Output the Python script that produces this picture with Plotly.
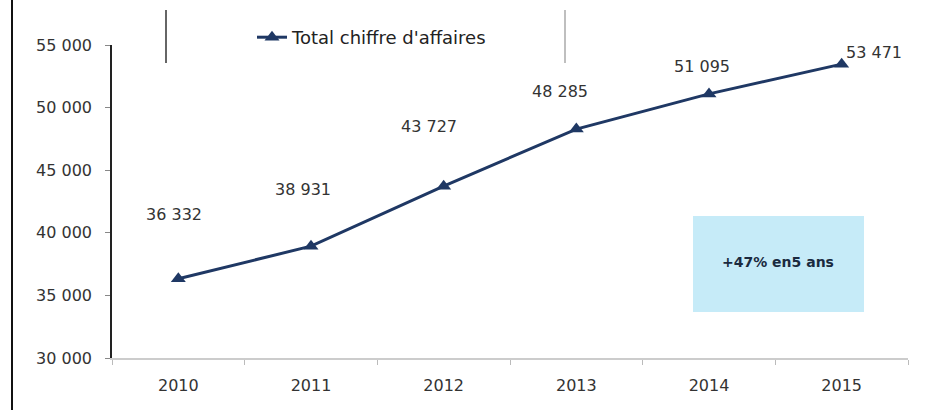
import plotly.graph_objects as go

years = ["2010", "2011", "2012", "2013", "2014", "2015"]
ca_total = [36332, 38931, 43727, 48285, 51095, 53471]
label_texts = ["36 332", "38 931", "43 727", "48 285", "51 095", "53 471"]
y_tickvals = [30000, 35000, 40000, 45000, 50000, 55000]
y_ticktext = ["30 000", "35 000", "40 000", "45 000", "50 000", "55 000"]
series_name = "Total chiffre d'affaires"
box_text = "<b>+47% en5 ans</b>"

# label offsets (pixels) relative to each point - styling only
label_dx = [-4, -8, -15, -16, -7, 32]
label_dy = [64, 57, 60, 38, 27, 12]

W, H = 928, 410
ML, MR, MT, MB = 112, 20, 45, 52
PW, PH = W - ML - MR, H - MT - MB

def px(x):
    return (x - ML) / PW

def py(y):
    return (H - MB - y) / PH

navy = "#1f3864"
font = "DejaVu Sans"

fig = go.Figure()
fig.add_trace(go.Scatter(
    x=years, y=ca_total, mode="lines+markers", name=series_name,
    line=dict(color=navy, width=3),
    marker=dict(symbol="triangle-up", size=13, color=navy),
    cliponaxis=False,
))

for i, (v, t, dx, dy) in enumerate(zip(ca_total, label_texts, label_dx, label_dy)):
    fig.add_annotation(x=i, y=v, text=t, showarrow=False, xshift=dx, yshift=dy,
                       xanchor="center", yanchor="middle",
                       font=dict(family=font, size=16, color="#333333"))

# info box
fig.add_shape(type="rect", xref="paper", yref="paper",
              x0=px(693), x1=px(864), y0=py(312), y1=py(216),
              fillcolor="#c6ebf8", line=dict(width=0), layer="below")
fig.add_annotation(xref="paper", yref="paper", x=px(778), y=py(262), text=box_text,
                   xanchor="center", yanchor="middle",
                   showarrow=False, font=dict(family=font, size=14, color="#1a2a40"))

# frame artefacts
fig.add_shape(type="line", xref="paper", yref="paper", x0=px(12), x1=px(12),
              y0=py(0), y1=py(410), line=dict(color="#111111", width=2))
fig.add_shape(type="line", xref="paper", yref="paper", x0=px(166), x1=px(166),
              y0=py(10), y1=py(63), line=dict(color="#333333", width=1.5))
fig.add_shape(type="line", xref="paper", yref="paper", x0=px(565), x1=px(565),
              y0=py(10), y1=py(63), line=dict(color="#aaaaaa", width=1.5))

fig.update_layout(
    width=W, height=H,
    margin=dict(l=ML, r=MR, t=MT, b=MB),
    paper_bgcolor="white", plot_bgcolor="white",
    showlegend=True,
    legend=dict(orientation="h", x=px(252), y=py(19), xanchor="left", yanchor="top",
                font=dict(family=font, size=18, color="#222222"),
                bgcolor="rgba(0,0,0,0)"),
    font=dict(family=font, size=16, color="#333333"),
)
fig.update_xaxes(type="category", range=[-0.5, 5.5], showgrid=False,
                 showline=True, linecolor="#cccccc", linewidth=1.5,
                 ticks="outside", tickson="boundaries", ticklen=5, tickcolor="#bbbbbb",
                 ticklabelstandoff=12,
                 tickfont=dict(family=font, size=16, color="#333333"))
fig.update_yaxes(range=[30000, 55000], tickvals=y_tickvals, ticktext=y_ticktext,
                 showgrid=False, zeroline=False, showline=True, linecolor="#222222",
                 linewidth=1.5, ticks="outside", ticklen=5, tickcolor="#888888",
                 ticklabelstandoff=10,
                 tickfont=dict(family=font, size=16, color="#333333"))

fig.write_html("out.html")
